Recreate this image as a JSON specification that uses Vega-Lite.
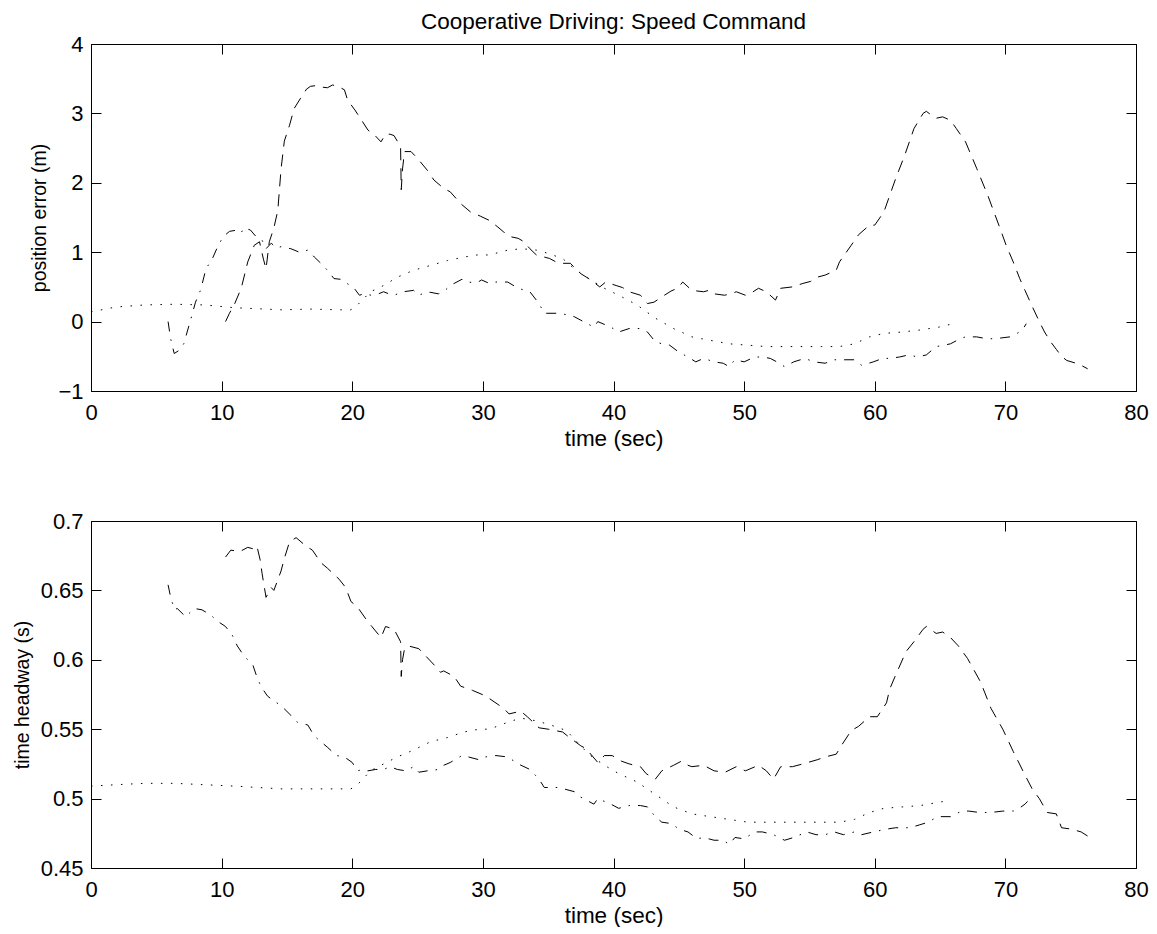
{
  "$schema": "https://vega.github.io/schema/vega-lite/v6.json",
  "background": "white",
  "padding": {"left": 12, "top": 10, "right": 5, "bottom": 0},
  "config": {
    "font": "Liberation Sans",
    "view": {"stroke": null},
    "axis": {
      "domainColor": "black", "tickColor": "black", "labelColor": "black", "titleColor": "black",
      "labelFont": "Liberation Sans", "titleFont": "Liberation Sans",
      "labelFontSize": 22, "titleFontSize": 21, "titleFontWeight": "normal",
      "grid": false, "tickSize": -10, "domainWidth": 1, "tickWidth": 1, "labelPadding": 21,
      "minExtent": 0, "labelFlush": false
    },
    "axisX": {"titleFontSize": 22.5, "titlePadding": 4},
    "axisY": {"titleFontSize": 19.5, "titlePadding": 8, "labelPadding": 18}
  },
  "spacing": 130,
  "bounds": "flush",
  "datasets": {
    "pos": [
      {"s":"series1","t":10.3,"v":0.0},{"s":"series1","t":10.6,"v":0.12},{"s":"series1","t":10.96,"v":0.24},{"s":"series1","t":11.5,"v":0.48},{"s":"series1","t":12.0,"v":0.86},{"s":"series1","t":12.5,"v":1.1},{"s":"series1","t":12.9,"v":1.15},{"s":"series1","t":13.2,"v":0.9},{"s":"series1","t":13.4,"v":0.76},{"s":"series1","t":13.65,"v":1.15},{"s":"series1","t":14.0,"v":1.35},{"s":"series1","t":14.3,"v":1.6},{"s":"series1","t":14.55,"v":2.2},{"s":"series1","t":14.8,"v":2.6},{"s":"series1","t":15.2,"v":2.83},{"s":"series1","t":15.55,"v":3.07},{"s":"series1","t":16.05,"v":3.22},{"s":"series1","t":16.5,"v":3.35},{"s":"series1","t":16.8,"v":3.39},{"s":"series1","t":17.2,"v":3.4},{"s":"series1","t":17.6,"v":3.38},{"s":"series1","t":18.1,"v":3.37},{"s":"series1","t":18.5,"v":3.41},{"s":"series1","t":19.0,"v":3.38},{"s":"series1","t":19.4,"v":3.34},{"s":"series1","t":19.65,"v":3.19},{"s":"series1","t":20.2,"v":3.05},{"s":"series1","t":20.55,"v":2.95},{"s":"series1","t":21.2,"v":2.76},{"s":"series1","t":21.7,"v":2.69},{"s":"series1","t":22.2,"v":2.59},{"s":"series1","t":22.55,"v":2.7},{"s":"series1","t":22.9,"v":2.7},{"s":"series1","t":23.2,"v":2.68},{"s":"series1","t":23.7,"v":2.52},{"s":"series1","t":23.75,"v":1.9},{"s":"series1","t":23.85,"v":2.2},{"s":"series1","t":24.0,"v":2.45},{"s":"series1","t":24.5,"v":2.45},{"s":"series1","t":25.0,"v":2.35},{"s":"series1","t":25.75,"v":2.18},{"s":"series1","t":26.25,"v":2.04},{"s":"series1","t":27.0,"v":1.92},{"s":"series1","t":27.5,"v":1.87},{"s":"series1","t":28.3,"v":1.7},{"s":"series1","t":29.05,"v":1.58},{"s":"series1","t":29.8,"v":1.52},{"s":"series1","t":30.47,"v":1.46},{"s":"series1","t":31.1,"v":1.37},{"s":"series1","t":31.6,"v":1.29},{"s":"series1","t":32.2,"v":1.22},{"s":"series1","t":32.7,"v":1.2},{"s":"series1","t":33.15,"v":1.15},{"s":"series1","t":33.6,"v":1.05},{"s":"series1","t":34.1,"v":0.96},{"s":"series1","t":35.1,"v":0.91},{"s":"series1","t":35.6,"v":0.86},{"s":"series1","t":36.1,"v":0.84},{"s":"series1","t":36.7,"v":0.84},{"s":"series1","t":37.1,"v":0.76},{"s":"series1","t":37.5,"v":0.69},{"s":"series1","t":38.1,"v":0.62},{"s":"series1","t":38.95,"v":0.5},{"s":"series1","t":39.4,"v":0.57},{"s":"series1","t":40.2,"v":0.52},{"s":"series1","t":40.7,"v":0.49},{"s":"series1","t":41.2,"v":0.43},{"s":"series1","t":42.06,"v":0.38},{"s":"series1","t":42.6,"v":0.26},{"s":"series1","t":43.1,"v":0.28},{"s":"series1","t":43.5,"v":0.33},{"s":"series1","t":43.9,"v":0.38},{"s":"series1","t":44.4,"v":0.44},{"s":"series1","t":44.9,"v":0.48},{"s":"series1","t":45.3,"v":0.57},{"s":"series1","t":46.0,"v":0.45},{"s":"series1","t":46.9,"v":0.43},{"s":"series1","t":47.3,"v":0.45},{"s":"series1","t":47.7,"v":0.4},{"s":"series1","t":48.5,"v":0.38},{"s":"series1","t":49.0,"v":0.4},{"s":"series1","t":49.4,"v":0.43},{"s":"series1","t":50.1,"v":0.38},{"s":"series1","t":50.6,"v":0.42},{"s":"series1","t":51.1,"v":0.48},{"s":"series1","t":51.7,"v":0.43},{"s":"series1","t":52.4,"v":0.31},{"s":"series1","t":52.8,"v":0.48},{"s":"series1","t":53.7,"v":0.5},{"s":"series1","t":54.5,"v":0.55},{"s":"series1","t":55.1,"v":0.58},{"s":"series1","t":55.6,"v":0.64},{"s":"series1","t":56.2,"v":0.67},{"s":"series1","t":57.05,"v":0.74},{"s":"series1","t":57.3,"v":0.86},{"s":"series1","t":58.2,"v":1.1},{"s":"series1","t":58.75,"v":1.25},{"s":"series1","t":59.6,"v":1.39},{"s":"series1","t":60.0,"v":1.39},{"s":"series1","t":60.7,"v":1.58},{"s":"series1","t":61.15,"v":1.82},{"s":"series1","t":61.6,"v":2.06},{"s":"series1","t":62.3,"v":2.4},{"s":"series1","t":63.0,"v":2.78},{"s":"series1","t":63.7,"v":3.0},{"s":"series1","t":63.95,"v":3.03},{"s":"series1","t":64.3,"v":2.98},{"s":"series1","t":64.7,"v":2.93},{"s":"series1","t":65.2,"v":2.95},{"s":"series1","t":65.8,"v":2.9},{"s":"series1","t":66.25,"v":2.78},{"s":"series1","t":66.95,"v":2.59},{"s":"series1","t":67.8,"v":2.21},{"s":"series1","t":68.65,"v":1.82},{"s":"series1","t":69.5,"v":1.39},{"s":"series1","t":70.06,"v":1.1},{"s":"series1","t":70.6,"v":0.86},{"s":"series1","t":71.1,"v":0.62},{"s":"series1","t":71.5,"v":0.45},{"s":"series1","t":72.1,"v":0.2},{"s":"series1","t":72.6,"v":0.0},{"s":"series1","t":73.0,"v":-0.15},{"s":"series1","t":73.5,"v":-0.3},{"s":"series1","t":73.9,"v":-0.4},{"s":"series1","t":74.3,"v":-0.5},{"s":"series1","t":74.7,"v":-0.56},{"s":"series1","t":75.4,"v":-0.6},{"s":"series1","t":75.8,"v":-0.63},{"s":"series1","t":76.3,"v":-0.68},
      {"s":"series2","t":5.9,"v":0.0},{"s":"series2","t":6.1,"v":-0.25},{"s":"series2","t":6.37,"v":-0.46},{"s":"series2","t":6.7,"v":-0.42},{"s":"series2","t":7.1,"v":-0.32},{"s":"series2","t":7.65,"v":0.04},{"s":"series2","t":8.0,"v":0.28},{"s":"series2","t":8.4,"v":0.46},{"s":"series2","t":8.8,"v":0.76},{"s":"series2","t":9.3,"v":0.91},{"s":"series2","t":9.65,"v":1.06},{"s":"series2","t":10.1,"v":1.22},{"s":"series2","t":10.6,"v":1.3},{"s":"series2","t":11.2,"v":1.32},{"s":"series2","t":11.5,"v":1.28},{"s":"series2","t":11.7,"v":1.35},{"s":"series2","t":12.2,"v":1.32},{"s":"series2","t":12.75,"v":1.2},{"s":"series2","t":13.1,"v":1.17},{"s":"series2","t":13.4,"v":1.05},{"s":"series2","t":13.8,"v":1.13},{"s":"series2","t":14.2,"v":1.06},{"s":"series2","t":14.55,"v":1.08},{"s":"series2","t":15.3,"v":1.05},{"s":"series2","t":15.95,"v":1.0},{"s":"series2","t":16.6,"v":1.03},{"s":"series2","t":17.1,"v":0.93},{"s":"series2","t":17.6,"v":0.84},{"s":"series2","t":18.1,"v":0.74},{"s":"series2","t":18.6,"v":0.62},{"s":"series2","t":19.1,"v":0.61},{"s":"series2","t":19.6,"v":0.55},{"s":"series2","t":20.15,"v":0.48},{"s":"series2","t":20.55,"v":0.38},{"s":"series2","t":20.9,"v":0.4},{"s":"series2","t":21.45,"v":0.38},{"s":"series2","t":22.0,"v":0.4},{"s":"series2","t":22.4,"v":0.43},{"s":"series2","t":22.8,"v":0.4},{"s":"series2","t":23.2,"v":0.38},{"s":"series2","t":23.9,"v":0.43},{"s":"series2","t":24.7,"v":0.45},{"s":"series2","t":25.1,"v":0.38},{"s":"series2","t":25.75,"v":0.43},{"s":"series2","t":26.6,"v":0.4},{"s":"series2","t":27.0,"v":0.43},{"s":"series2","t":27.5,"v":0.52},{"s":"series2","t":28.4,"v":0.61},{"s":"series2","t":28.8,"v":0.57},{"s":"series2","t":29.55,"v":0.56},{"s":"series2","t":29.9,"v":0.6},{"s":"series2","t":30.5,"v":0.55},{"s":"series2","t":31.0,"v":0.57},{"s":"series2","t":31.9,"v":0.57},{"s":"series2","t":32.7,"v":0.48},{"s":"series2","t":33.6,"v":0.43},{"s":"series2","t":34.3,"v":0.26},{"s":"series2","t":34.7,"v":0.12},{"s":"series2","t":35.8,"v":0.12},{"s":"series2","t":36.4,"v":0.1},{"s":"series2","t":37.0,"v":0.07},{"s":"series2","t":37.5,"v":0.02},{"s":"series2","t":38.5,"v":-0.08},{"s":"series2","t":38.8,"v":0.0},{"s":"series2","t":39.8,"v":-0.08},{"s":"series2","t":40.4,"v":-0.15},{"s":"series2","t":41.2,"v":-0.1},{"s":"series2","t":42.06,"v":-0.1},{"s":"series2","t":42.6,"v":-0.15},{"s":"series2","t":43.2,"v":-0.29},{"s":"series2","t":43.7,"v":-0.32},{"s":"series2","t":44.3,"v":-0.34},{"s":"series2","t":45.0,"v":-0.44},{"s":"series2","t":45.7,"v":-0.51},{"s":"series2","t":46.3,"v":-0.58},{"s":"series2","t":46.9,"v":-0.53},{"s":"series2","t":47.7,"v":-0.58},{"s":"series2","t":48.4,"v":-0.6},{"s":"series2","t":48.85,"v":-0.65},{"s":"series2","t":49.3,"v":-0.55},{"s":"series2","t":50.0,"v":-0.58},{"s":"series2","t":50.8,"v":-0.51},{"s":"series2","t":51.4,"v":-0.51},{"s":"series2","t":52.0,"v":-0.53},{"s":"series2","t":52.5,"v":-0.58},{"s":"series2","t":53.1,"v":-0.65},{"s":"series2","t":53.8,"v":-0.58},{"s":"series2","t":54.65,"v":-0.53},{"s":"series2","t":55.35,"v":-0.58},{"s":"series2","t":56.2,"v":-0.6},{"s":"series2","t":56.9,"v":-0.55},{"s":"series2","t":57.6,"v":-0.55},{"s":"series2","t":58.45,"v":-0.55},{"s":"series2","t":59.0,"v":-0.63},{"s":"series2","t":59.9,"v":-0.58},{"s":"series2","t":60.6,"v":-0.53},{"s":"series2","t":61.15,"v":-0.53},{"s":"series2","t":61.9,"v":-0.51},{"s":"series2","t":62.6,"v":-0.48},{"s":"series2","t":63.3,"v":-0.51},{"s":"series2","t":63.95,"v":-0.48},{"s":"series2","t":64.7,"v":-0.36},{"s":"series2","t":65.3,"v":-0.34},{"s":"series2","t":65.8,"v":-0.32},{"s":"series2","t":66.5,"v":-0.25},{"s":"series2","t":66.95,"v":-0.22},{"s":"series2","t":67.8,"v":-0.22},{"s":"series2","t":68.65,"v":-0.25},{"s":"series2","t":69.5,"v":-0.24},{"s":"series2","t":70.35,"v":-0.22},{"s":"series2","t":70.9,"v":-0.17},{"s":"series2","t":71.3,"v":-0.12},{"s":"series2","t":71.6,"v":-0.03},
      {"s":"series3","t":0,"v":0.14},{"s":"series3","t":1.9,"v":0.21},{"s":"series3","t":4.1,"v":0.24},{"s":"series3","t":6.4,"v":0.25},{"s":"series3","t":8.7,"v":0.24},{"s":"series3","t":11.0,"v":0.2},{"s":"series3","t":14.55,"v":0.17},{"s":"series3","t":16.8,"v":0.18},{"s":"series3","t":19.1,"v":0.17},{"s":"series3","t":19.9,"v":0.17},{"s":"series3","t":20.4,"v":0.24},{"s":"series3","t":21.4,"v":0.43},{"s":"series3","t":22.4,"v":0.52},{"s":"series3","t":23.45,"v":0.64},{"s":"series3","t":24.7,"v":0.74},{"s":"series3","t":26.0,"v":0.81},{"s":"series3","t":27.3,"v":0.88},{"s":"series3","t":28.55,"v":0.93},{"s":"series3","t":29.55,"v":0.96},{"s":"series3","t":30.5,"v":0.96},{"s":"series3","t":31.9,"v":1.03},{"s":"series3","t":33.0,"v":1.05},{"s":"series3","t":34.1,"v":1.03},{"s":"series3","t":34.7,"v":1.0},{"s":"series3","t":36.1,"v":0.91},{"s":"series3","t":37.0,"v":0.76},{"s":"series3","t":38.1,"v":0.62},{"s":"series3","t":39.3,"v":0.48},{"s":"series3","t":40.4,"v":0.38},{"s":"series3","t":41.8,"v":0.24},{"s":"series3","t":43.2,"v":0.05},{"s":"series3","t":44.6,"v":-0.1},{"s":"series3","t":46.0,"v":-0.22},{"s":"series3","t":47.4,"v":-0.27},{"s":"series3","t":48.85,"v":-0.32},{"s":"series3","t":50.3,"v":-0.34},{"s":"series3","t":51.7,"v":-0.36},{"s":"series3","t":53.1,"v":-0.36},{"s":"series3","t":54.5,"v":-0.36},{"s":"series3","t":55.9,"v":-0.36},{"s":"series3","t":57.3,"v":-0.36},{"s":"series3","t":58.45,"v":-0.32},{"s":"series3","t":59.6,"v":-0.22},{"s":"series3","t":60.7,"v":-0.17},{"s":"series3","t":62.1,"v":-0.15},{"s":"series3","t":63.5,"v":-0.12},{"s":"series3","t":64.9,"v":-0.08},{"s":"series3","t":66.0,"v":-0.03}
    ],
    "hw": [
      {"s":"series1","t":10.3,"v":0.674},{"s":"series1","t":10.7,"v":0.679},{"s":"series1","t":11.4,"v":0.678},{"s":"series1","t":12.0,"v":0.681},{"s":"series1","t":12.4,"v":0.68},{"s":"series1","t":12.7,"v":0.682},{"s":"series1","t":12.95,"v":0.672},{"s":"series1","t":13.1,"v":0.662},{"s":"series1","t":13.4,"v":0.645},{"s":"series1","t":13.8,"v":0.652},{"s":"series1","t":14.0,"v":0.65},{"s":"series1","t":14.55,"v":0.664},{"s":"series1","t":14.8,"v":0.673},{"s":"series1","t":15.2,"v":0.685},{"s":"series1","t":15.7,"v":0.688},{"s":"series1","t":16.45,"v":0.682},{"s":"series1","t":16.95,"v":0.679},{"s":"series1","t":17.6,"v":0.67},{"s":"series1","t":18.1,"v":0.666},{"s":"series1","t":19.0,"v":0.658},{"s":"series1","t":19.5,"v":0.652},{"s":"series1","t":19.9,"v":0.642},{"s":"series1","t":20.4,"v":0.638},{"s":"series1","t":21.0,"v":0.63},{"s":"series1","t":21.5,"v":0.624},{"s":"series1","t":22.2,"v":0.616},{"s":"series1","t":22.55,"v":0.624},{"s":"series1","t":23.2,"v":0.622},{"s":"series1","t":23.7,"v":0.613},{"s":"series1","t":23.75,"v":0.588},{"s":"series1","t":23.85,"v":0.6},{"s":"series1","t":24.0,"v":0.608},{"s":"series1","t":24.3,"v":0.61},{"s":"series1","t":25.1,"v":0.608},{"s":"series1","t":25.6,"v":0.603},{"s":"series1","t":26.5,"v":0.594},{"s":"series1","t":26.75,"v":0.591},{"s":"series1","t":27.0,"v":0.592},{"s":"series1","t":27.8,"v":0.588},{"s":"series1","t":28.3,"v":0.581},{"s":"series1","t":29.2,"v":0.578},{"s":"series1","t":30.2,"v":0.574},{"s":"series1","t":31.6,"v":0.565},{"s":"series1","t":32.0,"v":0.561},{"s":"series1","t":32.9,"v":0.563},{"s":"series1","t":33.4,"v":0.559},{"s":"series1","t":34.3,"v":0.551},{"s":"series1","t":35.0,"v":0.55},{"s":"series1","t":36.1,"v":0.548},{"s":"series1","t":36.5,"v":0.545},{"s":"series1","t":37.5,"v":0.538},{"s":"series1","t":37.9,"v":0.536},{"s":"series1","t":38.8,"v":0.526},{"s":"series1","t":39.3,"v":0.531},{"s":"series1","t":39.9,"v":0.531},{"s":"series1","t":40.6,"v":0.527},{"s":"series1","t":41.2,"v":0.525},{"s":"series1","t":42.06,"v":0.523},{"s":"series1","t":42.5,"v":0.518},{"s":"series1","t":43.2,"v":0.514},{"s":"series1","t":43.7,"v":0.52},{"s":"series1","t":44.6,"v":0.524},{"s":"series1","t":45.2,"v":0.527},{"s":"series1","t":45.7,"v":0.524},{"s":"series1","t":46.0,"v":0.523},{"s":"series1","t":46.9,"v":0.524},{"s":"series1","t":47.7,"v":0.52},{"s":"series1","t":48.55,"v":0.519},{"s":"series1","t":49.4,"v":0.523},{"s":"series1","t":50.1,"v":0.52},{"s":"series1","t":51.1,"v":0.524},{"s":"series1","t":51.7,"v":0.52},{"s":"series1","t":52.25,"v":0.514},{"s":"series1","t":52.8,"v":0.523},{"s":"series1","t":53.7,"v":0.523},{"s":"series1","t":54.5,"v":0.525},{"s":"series1","t":55.6,"v":0.528},{"s":"series1","t":56.2,"v":0.53},{"s":"series1","t":57.05,"v":0.532},{"s":"series1","t":57.5,"v":0.539},{"s":"series1","t":58.2,"v":0.549},{"s":"series1","t":58.75,"v":0.552},{"s":"series1","t":59.6,"v":0.559},{"s":"series1","t":60.2,"v":0.559},{"s":"series1","t":60.9,"v":0.569},{"s":"series1","t":61.15,"v":0.579},{"s":"series1","t":61.6,"v":0.589},{"s":"series1","t":62.4,"v":0.606},{"s":"series1","t":63.0,"v":0.613},{"s":"series1","t":63.7,"v":0.622},{"s":"series1","t":63.95,"v":0.624},{"s":"series1","t":64.7,"v":0.619},{"s":"series1","t":65.2,"v":0.62},{"s":"series1","t":65.8,"v":0.616},{"s":"series1","t":66.4,"v":0.61},{"s":"series1","t":67.1,"v":0.601},{"s":"series1","t":68.1,"v":0.584},{"s":"series1","t":68.9,"v":0.565},{"s":"series1","t":69.8,"v":0.55},{"s":"series1","t":70.6,"v":0.534},{"s":"series1","t":71.5,"v":0.517},{"s":"series1","t":72.05,"v":0.507},{"s":"series1","t":72.6,"v":0.5},{"s":"series1","t":73.2,"v":0.49},{"s":"series1","t":73.9,"v":0.489},{"s":"series1","t":74.3,"v":0.479},{"s":"series1","t":75.05,"v":0.478},{"s":"series1","t":75.8,"v":0.476},{"s":"series1","t":76.3,"v":0.473},
      {"s":"series2","t":5.9,"v":0.654},{"s":"series2","t":6.1,"v":0.645},{"s":"series2","t":6.4,"v":0.636},{"s":"series2","t":6.6,"v":0.637},{"s":"series2","t":7.25,"v":0.631},{"s":"series2","t":7.9,"v":0.637},{"s":"series2","t":8.5,"v":0.636},{"s":"series2","t":9.2,"v":0.632},{"s":"series2","t":9.65,"v":0.628},{"s":"series2","t":10.3,"v":0.624},{"s":"series2","t":10.8,"v":0.618},{"s":"series2","t":11.2,"v":0.61},{"s":"series2","t":11.7,"v":0.603},{"s":"series2","t":12.4,"v":0.596},{"s":"series2","t":12.65,"v":0.589},{"s":"series2","t":13.0,"v":0.581},{"s":"series2","t":13.5,"v":0.574},{"s":"series2","t":13.9,"v":0.571},{"s":"series2","t":14.55,"v":0.567},{"s":"series2","t":15.3,"v":0.56},{"s":"series2","t":15.8,"v":0.555},{"s":"series2","t":16.6,"v":0.553},{"s":"series2","t":17.1,"v":0.545},{"s":"series2","t":17.6,"v":0.541},{"s":"series2","t":18.1,"v":0.537},{"s":"series2","t":18.8,"v":0.531},{"s":"series2","t":19.4,"v":0.53},{"s":"series2","t":20.0,"v":0.526},{"s":"series2","t":20.4,"v":0.52},{"s":"series2","t":20.8,"v":0.521},{"s":"series2","t":21.2,"v":0.52},{"s":"series2","t":21.8,"v":0.521},{"s":"series2","t":22.4,"v":0.521},{"s":"series2","t":22.9,"v":0.523},{"s":"series2","t":23.45,"v":0.521},{"s":"series2","t":24.1,"v":0.52},{"s":"series2","t":24.7,"v":0.523},{"s":"series2","t":25.1,"v":0.519},{"s":"series2","t":25.75,"v":0.52},{"s":"series2","t":26.6,"v":0.521},{"s":"series2","t":27.0,"v":0.524},{"s":"series2","t":27.5,"v":0.526},{"s":"series2","t":28.4,"v":0.531},{"s":"series2","t":28.9,"v":0.53},{"s":"series2","t":29.7,"v":0.528},{"s":"series2","t":30.2,"v":0.53},{"s":"series2","t":31.0,"v":0.531},{"s":"series2","t":31.9,"v":0.53},{"s":"series2","t":32.7,"v":0.525},{"s":"series2","t":33.6,"v":0.521},{"s":"series2","t":34.3,"v":0.514},{"s":"series2","t":34.7,"v":0.508},{"s":"series2","t":35.8,"v":0.508},{"s":"series2","t":37.0,"v":0.505},{"s":"series2","t":37.5,"v":0.501},{"s":"series2","t":38.5,"v":0.496},{"s":"series2","t":38.8,"v":0.5},{"s":"series2","t":39.8,"v":0.496},{"s":"series2","t":40.4,"v":0.493},{"s":"series2","t":41.2,"v":0.495},{"s":"series2","t":42.06,"v":0.495},{"s":"series2","t":42.6,"v":0.494},{"s":"series2","t":43.2,"v":0.487},{"s":"series2","t":43.7,"v":0.483},{"s":"series2","t":44.45,"v":0.482},{"s":"series2","t":45.0,"v":0.478},{"s":"series2","t":45.7,"v":0.476},{"s":"series2","t":46.4,"v":0.471},{"s":"series2","t":46.9,"v":0.472},{"s":"series2","t":47.7,"v":0.47},{"s":"series2","t":48.4,"v":0.47},{"s":"series2","t":48.85,"v":0.467},{"s":"series2","t":49.3,"v":0.472},{"s":"series2","t":50.0,"v":0.471},{"s":"series2","t":50.8,"v":0.476},{"s":"series2","t":51.4,"v":0.476},{"s":"series2","t":52.25,"v":0.474},{"s":"series2","t":53.1,"v":0.47},{"s":"series2","t":53.8,"v":0.472},{"s":"series2","t":54.8,"v":0.476},{"s":"series2","t":55.5,"v":0.474},{"s":"series2","t":56.2,"v":0.474},{"s":"series2","t":56.9,"v":0.476},{"s":"series2","t":57.6,"v":0.474},{"s":"series2","t":58.45,"v":0.476},{"s":"series2","t":59.0,"v":0.474},{"s":"series2","t":59.9,"v":0.476},{"s":"series2","t":60.9,"v":0.478},{"s":"series2","t":61.6,"v":0.479},{"s":"series2","t":62.7,"v":0.479},{"s":"series2","t":63.4,"v":0.481},{"s":"series2","t":64.1,"v":0.483},{"s":"series2","t":64.8,"v":0.487},{"s":"series2","t":65.8,"v":0.487},{"s":"series2","t":66.65,"v":0.491},{"s":"series2","t":67.2,"v":0.491},{"s":"series2","t":68.0,"v":0.49},{"s":"series2","t":68.9,"v":0.49},{"s":"series2","t":69.8,"v":0.491},{"s":"series2","t":70.6,"v":0.491},{"s":"series2","t":71.2,"v":0.494},{"s":"series2","t":71.5,"v":0.496},{"s":"series2","t":71.7,"v":0.498},
      {"s":"series3","t":0,"v":0.509},{"s":"series3","t":1.9,"v":0.51},{"s":"series3","t":4.1,"v":0.511},{"s":"series3","t":6.4,"v":0.511},{"s":"series3","t":8.7,"v":0.51},{"s":"series3","t":11.0,"v":0.509},{"s":"series3","t":14.55,"v":0.507},{"s":"series3","t":16.8,"v":0.507},{"s":"series3","t":19.1,"v":0.507},{"s":"series3","t":19.9,"v":0.507},{"s":"series3","t":20.4,"v":0.51},{"s":"series3","t":21.4,"v":0.52},{"s":"series3","t":22.4,"v":0.525},{"s":"series3","t":23.45,"v":0.53},{"s":"series3","t":24.7,"v":0.535},{"s":"series3","t":26.0,"v":0.541},{"s":"series3","t":27.3,"v":0.544},{"s":"series3","t":28.55,"v":0.548},{"s":"series3","t":29.7,"v":0.55},{"s":"series3","t":30.5,"v":0.55},{"s":"series3","t":31.9,"v":0.555},{"s":"series3","t":32.9,"v":0.558},{"s":"series3","t":34.1,"v":0.556},{"s":"series3","t":35.2,"v":0.553},{"s":"series3","t":36.4,"v":0.549},{"s":"series3","t":37.2,"v":0.541},{"s":"series3","t":38.1,"v":0.532},{"s":"series3","t":39.3,"v":0.524},{"s":"series3","t":40.4,"v":0.518},{"s":"series3","t":41.8,"v":0.512},{"s":"series3","t":43.2,"v":0.503},{"s":"series3","t":44.6,"v":0.494},{"s":"series3","t":46.0,"v":0.489},{"s":"series3","t":47.4,"v":0.487},{"s":"series3","t":48.85,"v":0.485},{"s":"series3","t":50.3,"v":0.483},{"s":"series3","t":51.7,"v":0.483},{"s":"series3","t":54.5,"v":0.483},{"s":"series3","t":57.3,"v":0.483},{"s":"series3","t":58.45,"v":0.485},{"s":"series3","t":59.6,"v":0.49},{"s":"series3","t":60.7,"v":0.493},{"s":"series3","t":62.1,"v":0.494},{"s":"series3","t":63.5,"v":0.495},{"s":"series3","t":65.3,"v":0.498}
    ]
  },
  "vconcat": [
    {
      "width": 1045,
      "height": 347,
      "title": {"text": "Cooperative Driving: Speed Command", "font": "Liberation Sans", "fontSize": 22.5, "fontWeight": "normal", "color": "black", "anchor": "middle", "baseline": "alphabetic", "offset": -18},
      "data": {"name": "pos"},
      "layer": [
        {
          "mark": {"type": "line", "color": "black", "strokeWidth": 1, "strokeCap": "butt"},
          "encoding": {
            "x": {"field": "t", "type": "quantitative", "scale": {"domain": [0, 80], "nice": false, "zero": false}, "axis": {"orient": "bottom", "values": [0,10,20,30,40,50,60,70,80], "title": "time (sec)"}},
            "y": {"field": "v", "type": "quantitative", "scale": {"domain": [-1, 4], "nice": false, "zero": false}, "axis": {"orient": "left", "values": [-1,0,1,2,3,4], "title": "position error (m)"}},
            "strokeDash": {"field": "s", "type": "nominal", "scale": {"domain": ["series1","series2","series3"], "range": [[12,8],[10,8,1.5,8],[1.5,8.5]]}, "legend": null}
          }
        },
        {
          "mark": {"type": "line", "opacity": 0},
          "encoding": {
            "x": {"field": "t", "type": "quantitative", "axis": {"orient": "top", "values": [0,10,20,30,40,50,60,70,80], "labels": false, "title": null}},
            "y": {"field": "v", "type": "quantitative", "axis": {"orient": "right", "values": [-1,0,1,2,3,4], "labels": false, "title": null}},
            "detail": {"field": "s"}
          }
        }
      ],
      "resolve": {"axis": {"x": "independent", "y": "independent"}}
    },
    {
      "width": 1045,
      "height": 347,
      "data": {"name": "hw"},
      "layer": [
        {
          "mark": {"type": "line", "color": "black", "strokeWidth": 1, "strokeCap": "butt"},
          "encoding": {
            "x": {"field": "t", "type": "quantitative", "scale": {"domain": [0, 80], "nice": false, "zero": false}, "axis": {"orient": "bottom", "values": [0,10,20,30,40,50,60,70,80], "title": "time (sec)"}},
            "y": {"field": "v", "type": "quantitative", "scale": {"domain": [0.45, 0.7], "nice": false, "zero": false}, "axis": {"orient": "left", "values": [0.45,0.5,0.55,0.6,0.65,0.7], "format": "~g", "title": "time headway (s)"}},
            "strokeDash": {"field": "s", "type": "nominal", "scale": {"domain": ["series1","series2","series3"], "range": [[12,8],[10,8,1.5,8],[1.5,8.5]]}, "legend": null}
          }
        },
        {
          "mark": {"type": "line", "opacity": 0},
          "encoding": {
            "x": {"field": "t", "type": "quantitative", "axis": {"orient": "top", "values": [0,10,20,30,40,50,60,70,80], "labels": false, "title": null}},
            "y": {"field": "v", "type": "quantitative", "axis": {"orient": "right", "values": [0.45,0.5,0.55,0.6,0.65,0.7], "labels": false, "title": null}},
            "detail": {"field": "s"}
          }
        }
      ],
      "resolve": {"axis": {"x": "independent", "y": "independent"}}
    }
  ]
}
